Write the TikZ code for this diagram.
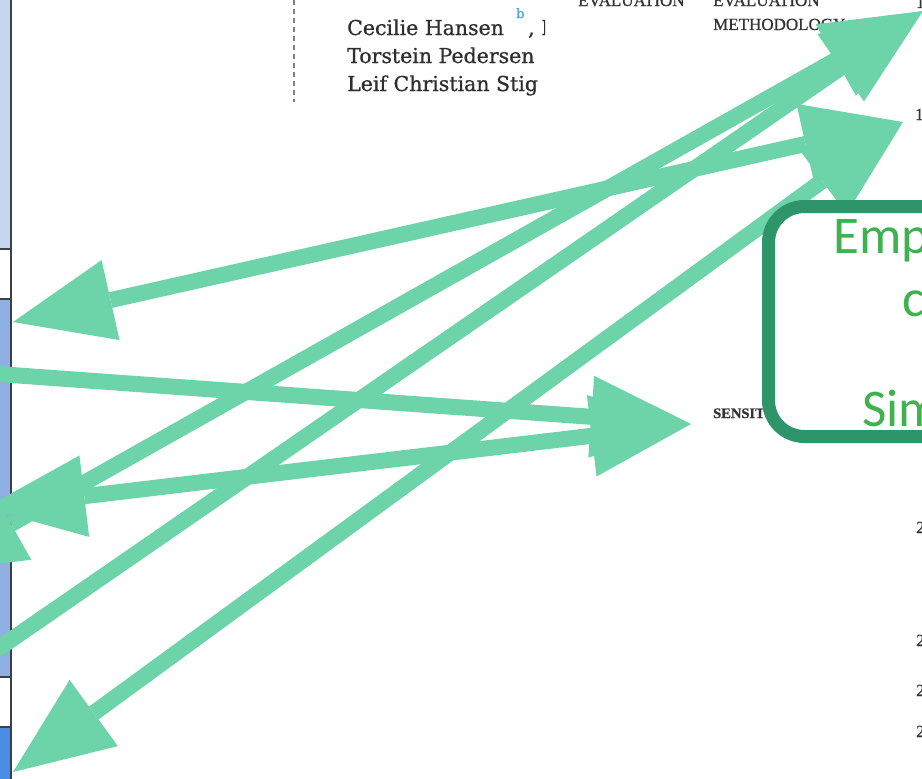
\documentclass[tikz,border=0pt]{standalone}
\usepackage{fontspec}
\setmainfont{DejaVu Serif}
\newfontfamily\authfont[FakeBold=0.8]{DejaVu Serif}
\newfontfamily\headfont[FakeBold=0.8]{Liberation Serif}
\newfontfamily\boxfont{Carlito}
\usetikzlibrary{arrows.meta}
\definecolor{mint}{HTML}{6DD3A9}
\definecolor{boxline}{HTML}{2E946A}
\definecolor{boxtext}{HTML}{3DB24F}
\definecolor{authcol}{HTML}{2E2E2E}
\definecolor{supblue}{HTML}{4AA8DC}
\definecolor{headcol}{HTML}{333333}
\definecolor{stripA}{HTML}{C5D7EF}
\definecolor{stripB}{HTML}{8FB0E2}
\definecolor{stripC}{HTML}{4A8DE4}
\definecolor{stripline}{HTML}{3A3F4A}
\tikzset{
  conn/.style={draw=mint, line width=16pt, line cap=butt,
    >={Triangle[length=100pt,width=82pt,line width=0pt]}},
  auth/.style={anchor=base west, inner sep=0pt, text=authcol,
    font=\authfont\fontsize{20.5}{24}\selectfont},
  head/.style={anchor=base west, inner sep=0pt, text=headcol,
    font=\headfont\fontsize{17}{20}\selectfont},
  boxtxt/.style={anchor=base west, inner sep=0pt, text=boxtext,
    font=\boxfont\fontsize{53}{60}\selectfont},
  greenbox/.style={draw=boxline, line width=13pt, fill=white,
    rounded corners=36pt, inner sep=0pt},
}
\begin{document}
\begin{tikzpicture}[x=1pt,y=-1pt]
\useasboundingbox (0,0) rectangle (922,779);
\clip (0,0) rectangle (922,779);
\fill[white] (0,0) rectangle (922,779);

% left strip
\fill[stripA] (0,0) rectangle (10,249);
\fill[stripB] (0,299) rectangle (10,677);
\fill[stripC] (0,727) rectangle (10,779);
\draw[stripline, line width=2pt] (10.5,0) -- (10.5,779);
\foreach \yy in {249,299,677,727}
  \draw[stripline, line width=1.5pt] (0,\yy) -- (11.5,\yy);

% dashed separator
\draw[gray, line width=1.5pt, dash pattern=on 5pt off 4pt] (294,0) -- (294,102);

% authors block
\begin{scope}
\clip (296,0) rectangle (545,110);
\node[auth] (au1) at (347,35) {Cecilie Hansen};
\node[anchor=base west, inner sep=0pt, text=supblue,
  font=\authfont\fontsize{13}{15}\selectfont] (sup) at (516,18) {b};
\node[auth] (au1b) at (528,35) {, I};
\node[auth] (au2) at (347,63) {Torstein Pedersen};
\node[auth] (au3) at (347,91) {Leif Christian Stig};
\end{scope}

% headings
\node[head] (ev1) at (578,6) {EVALUATION};
\node[head] (ev2) at (713,6) {EVALUATION};
\node[head] (meth) at (713,30) {METHODOLOGY};
\node[head, font=\headfont\bfseries\fontsize{14.5}{16}\selectfont] (sens) at (713,418) {SENSIT};

% right-edge digits
\node[head] (d1) at (916,8) {1};
\node[head] (d2) at (915,120) {1};
\node[head] (d3) at (916,533) {2};
\node[head] (d4) at (916,646) {2};
\node[head] (d5) at (916,696) {2};
\node[head] (d6) at (916,737) {2};

% connector end points
\coordinate (pS) at (691,424);
\coordinate (pTR) at (923,11);
\coordinate (pMR) at (903,122);
\coordinate (l1) at (-30,372);
\coordinate (l2) at (-15,508);
\coordinate (l3) at (13,322);
\coordinate (l4) at (-76,573);
\coordinate (l5) at (-40,675);
\coordinate (l6) at (13,772);

\draw[conn, ->] (l1) -- (pS);
\draw[conn, <->] (l2) -- (pS);
\draw[conn, <->] (l3) -- (pMR);
\draw[conn, <->] (l4) -- (pTR);
\draw[conn, ->] (l5) -- (pTR);
\draw[conn, <->] (l6) -- (pMR);

% green box
\node[greenbox, minimum width=331.5pt, minimum height=230pt] (box) at (934.25,321.5) {};
\node[boxtxt] (t1) at (833,253) {Emp};
\node[boxtxt] (t2) at (902,316) {c};
\node[boxtxt] (t3) at (862,426) {Sim};
\end{tikzpicture}
\end{document}
